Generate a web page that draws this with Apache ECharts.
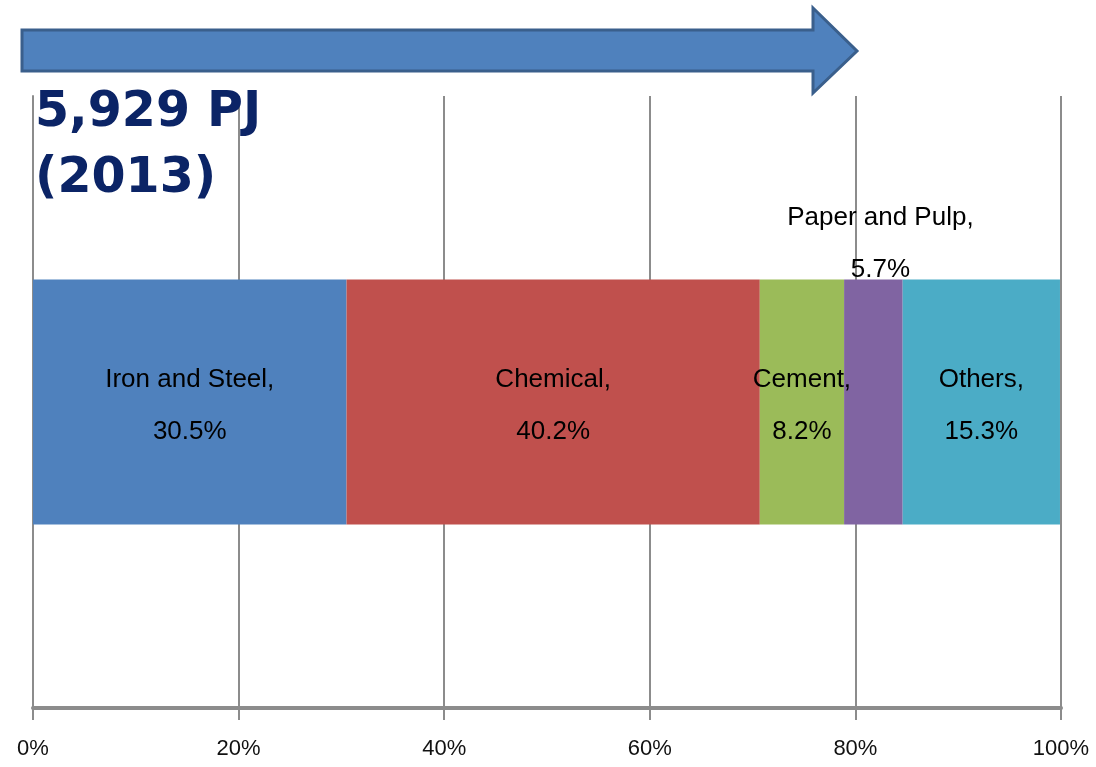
<!DOCTYPE html>
<html><head><meta charset="utf-8">
<script src="https://cdn.jsdelivr.net/npm/echarts@6/dist/echarts.min.js"></script>
<style>html,body{margin:0;padding:0;background:#fff}#c{width:1096px;height:767px}</style>
</head><body><div id="c"></div>
<script>
const categories = ['2013'];
const sectors = ['Iron and Steel', 'Chemical', 'Cement', 'Paper and Pulp', 'Others'];
const shares = [30.5, 40.2, 8.2, 5.7, 15.3];
const colors = ['#4F81BD', '#C0504D', '#9BBB59', '#8064A2', '#4BACC6'];
const tickLabels = ['0%', '20%', '40%', '60%', '80%', '100%'];
const titleText = '5,929 PJ\n(2013)';
const FONT = '"Liberation Sans Narrow", "Arial Narrow", "Liberation Sans", sans-serif';

const chart = echarts.init(document.getElementById('c'));
const series = sectors.map((name, i) => ({
  name, type: 'bar', stack: 'total', barWidth: '40%',
  itemStyle: { color: colors[i] },
  data: [shares[i]],
  label: {
    show: true,
    position: name === 'Paper and Pulp' ? 'top' : 'inside',
    distance: name === 'Paper and Pulp' ? -16 : 0,
    offset: name === 'Paper and Pulp' ? [7, 0] : [0, 4],
    formatter: p => p.seriesName + ',\n' + p.value.toFixed(1) + '%',
    color: '#000', fontFamily: FONT, fontSize: 26, lineHeight: 52,
    textBorderWidth: 0
  }
}));

chart.setOption({
  animation: false,
  grid: { left: 33, right: 35, top: 96, bottom: 59, containLabel: false },
  xAxis: {
    type: 'value', min: 0, max: 100, interval: 20,
    axisLine: { show: true, lineStyle: { color: '#8c8c8c', width: 4 } },
    axisTick: { show: true, length: 12, lineStyle: { color: '#8c8c8c', width: 2 } },
    splitLine: { show: true, lineStyle: { color: '#8c8c8c', width: 2 } },
    axisLabel: { formatter: v => tickLabels[v / 20], fontFamily: FONT, fontSize: 22, color: '#111', margin: 30 }
  },
  yAxis: {
    type: 'category', data: categories,
    axisLine: { show: true, lineStyle: { color: '#8c8c8c', width: 2 } },
    axisTick: { show: false },
    axisLabel: { show: false }
  },
  series,
  graphic: [
    {
      type: 'polygon', z: 10,
      shape: { points: [[22, 30], [813, 30], [813, 8], [857, 51], [813, 93], [813, 71], [22, 71]] },
      style: { fill: '#4F81BD', stroke: '#3A5F8C', lineWidth: 3 }
    },
    {
      type: 'text', left: 35, top: 80, z: 10,
      style: { text: titleText, fill: '#0B2466', font: 'bold 49px "DejaVu Sans", sans-serif', lineHeight: 66 }
    }
  ]
});
</script></body></html>
